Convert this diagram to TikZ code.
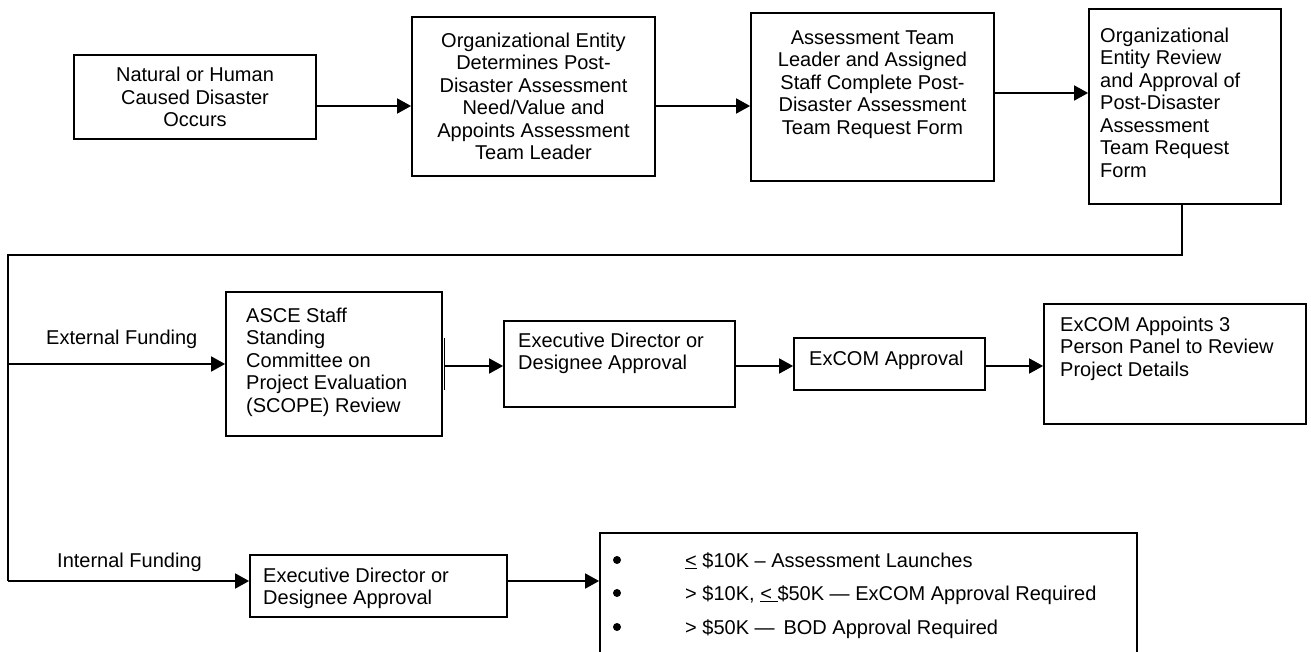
\documentclass[tikz,border=0pt]{standalone}
\usepackage{fontspec}
\setmainfont{Liberation Sans}
\usetikzlibrary{arrows.meta}
\newcommand{\topstrut}{\rule{0pt}{15pt}}
\begin{document}
\begin{tikzpicture}[x=1pt,y=-1pt,
  box/.style={draw, line width=1.8pt, rectangle, inner sep=0pt},
  txt/.style={inner sep=0pt, font=\fontsize{20}{22.5}\selectfont},
  line/.style={line width=1.8pt},
  arr/.style={line width=1.8pt, -{Triangle[length=14pt,width=15pt]}},
  dot/.style={circle, fill, inner sep=0pt, minimum size=8pt},
]
\useasboundingbox (0,0) rectangle (1311,652);
\clip (0,0) rectangle (1311,652);

% row 1
\node[box, txt, align=center, minimum width=242pt, minimum height=84pt] (b1) at (195,97) {Natural or Human\\Caused Disaster\\Occurs};
\node[box, txt, align=center, minimum width=243pt, minimum height=159pt] (b2) at (533.5,96.5) {Organizational Entity\\Determines Post-\\Disaster Assessment\\Need/Value and\\Appoints Assessment\\Team Leader};
\node[box, minimum width=243pt, minimum height=168pt] (b3) at (872.5,97) {};
\node[txt, align=center, anchor=north] (t3) at (872.5,29) {\topstrut Assessment Team\\Leader and Assigned\\Staff Complete Post-\\Disaster Assessment\\Team Request Form};
\node[box, minimum width=192pt, minimum height=195pt] (b4) at (1185,106.5) {};
\node[txt, align=left, anchor=north west] (t4) at (1100,27) {\topstrut Organizational\\Entity Review\\and Approval of\\Post-Disaster\\Assessment\\Team Request\\Form};

\coordinate (r1) at (0,106);
\coordinate (r2) at (0,93);
\draw[arr] (b1.east |- r1) -- (b2.west |- r1);
\draw[arr] (b2.east |- r1) -- (b3.west |- r1);
\draw[arr] (b3.east |- r2) -- (b4.west |- r2);

% row 2
\node[box, minimum width=216pt, minimum height=144pt] (scope) at (334,364) {};
\node[txt, align=left, anchor=north west] (tscope) at (246,307) {\topstrut ASCE Staff\\Standing\\Committee on\\Project Evaluation\\(SCOPE) Review};
\coordinate (bar1) at (444.5,338);
\coordinate (bar2) at (444.5,390);
\draw[line] (bar1) -- (bar2);

\node[box, minimum width=231pt, minimum height=86pt] (ed1) at (619.5,364) {};
\node[txt, align=left, anchor=north west] (ted1) at (518,332) {\topstrut Executive Director or\\Designee Approval};
\node[box, minimum width=191pt, minimum height=52pt] (exa) at (889.5,364) {};
\node[txt, anchor=north west] (texa) at (809,350) {\topstrut ExCOM Approval};
\node[box, minimum width=262pt, minimum height=120pt] (exp) at (1175,364) {};
\node[txt, align=left, anchor=north west] (texp) at (1060,316) {\topstrut ExCOM Appoints 3\\Person Panel to Review\\Project Details};

\coordinate (r3) at (0,366);
\draw[arr] (bar1 |- r3) -- (ed1.west |- r3);
\draw[arr] (ed1.east |- r3) -- (exa.west |- r3);
\draw[arr] (exa.east |- r3) -- (exp.west |- r3);

% row 3
\node[box, minimum width=257pt, minimum height=62pt] (ed2) at (378.5,586) {};
\node[txt, align=left, anchor=north west] (ted2) at (263,567) {\topstrut Executive Director or\\Designee Approval};
\node[box, minimum width=537pt, minimum height=150pt] (bul) at (868.5,608) {};
\node[dot] (d1) at (617,560) {};
\node[dot] (d2) at (617,593) {};
\node[dot] (d3) at (617,627) {};
\node[txt, anchor=base west] (l1) at (685,567) {\underline{<} \$10K – Assessment Launches};
\node[txt, anchor=base west] (l2) at (685,600) {> \$10K, \underline{< }\$50K — ExCOM Approval Required};
\node[txt, anchor=base west] (l3) at (685,634) {> \$50K —\, BOD Approval Required};

% trunk lines
\coordinate (dn) at (1182,0);
\coordinate (tl) at (8,255);
\coordinate (el) at (8,364);
\coordinate (il) at (8,581);
\draw[line] (b4.south -| dn) |- (tl) -- (il);
\draw[arr] (el) -- (scope.west |- el);
\draw[arr] (il) -- (ed2.west |- il);
\draw[arr] (ed2.east |- il) -- (bul.west |- il);

\node[txt, anchor=north west] (lext) at (46,329) {\topstrut External Funding};
\node[txt, anchor=north west] (lint) at (57,552) {\topstrut Internal Funding};
\end{tikzpicture}
\end{document}
